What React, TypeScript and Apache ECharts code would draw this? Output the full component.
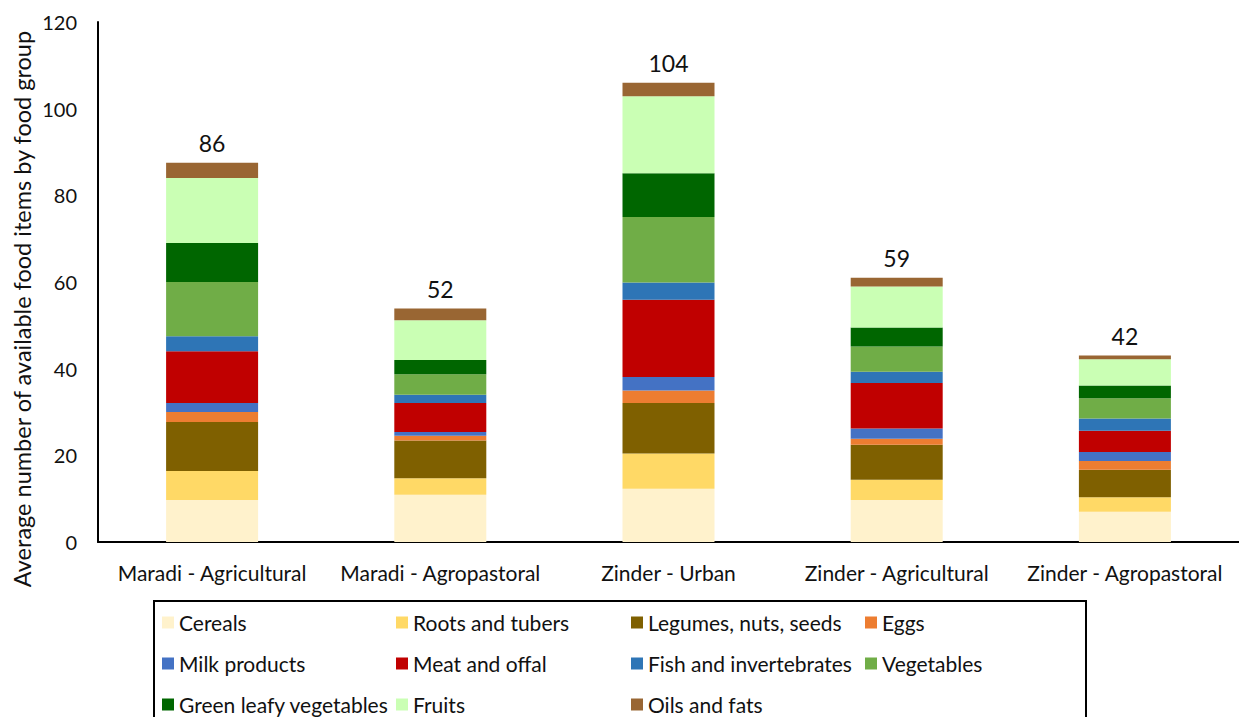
import React, { useEffect, useRef } from "react";
import * as echarts from "echarts";

const categories = [
  "Maradi - Agricultural",
  "Maradi - Agropastoral",
  "Zinder - Urban",
  "Zinder - Agricultural",
  "Zinder - Agropastoral",
];

const cereals = [9.7, 10.9, 12.3, 9.7, 7.0];
const rootsTubers = [6.7, 3.8, 8.1, 4.65, 3.3];
const legumesNutsSeeds = [11.3, 8.7, 11.7, 8.1, 6.4];
const eggs = [2.3, 1.1, 2.85, 1.35, 2.0];
const milkProducts = [2.1, 0.9, 3.15, 2.4, 2.05];
const meatOffal = [11.9, 6.7, 17.8, 10.5, 4.95];
const fishInvertebrates = [3.5, 1.9, 4.0, 2.6, 2.8];
const vegetables = [12.5, 4.7, 15.1, 5.8, 4.7];
const greenLeafyVegetables = [9.0, 3.3, 10.1, 4.4, 2.9];
const fruits = [15.0, 9.2, 17.75, 9.45, 6.1];
const oilsFats = [3.5, 2.7, 3.15, 2.05, 0.85];

const totals = [86, 52, 104, 59, 42];

const yTicks = [0, 20, 40, 60, 80, 100, 120];

const seriesDefs = [
  { name: "Cereals", data: cereals, color: "#FFF2CC" },
  { name: "Roots and tubers", data: rootsTubers, color: "#FFD966" },
  { name: "Legumes, nuts, seeds", data: legumesNutsSeeds, color: "#7F6000" },
  { name: "Eggs", data: eggs, color: "#ED7D31" },
  { name: "Milk products", data: milkProducts, color: "#4472C4" },
  { name: "Meat and offal", data: meatOffal, color: "#C00000" },
  { name: "Fish and invertebrates", data: fishInvertebrates, color: "#2E75B6" },
  { name: "Vegetables", data: vegetables, color: "#70AD47" },
  { name: "Green leafy vegetables", data: greenLeafyVegetables, color: "#006600" },
  { name: "Fruits", data: fruits, color: "#CAFFB4" },
  { name: "Oils and fats", data: oilsFats, color: "#996633" },
];

// legend grid: [row][col]
const legendRows = [
  ["Cereals", "Roots and tubers", "Legumes, nuts, seeds", "Eggs"],
  ["Milk products", "Meat and offal", "Fish and invertebrates", "Vegetables"],
  ["Green leafy vegetables", "Fruits", "Oils and fats"],
];
const legendColLefts = [162, 396, 631, 865];
const legendRowTops = [612, 653, 694];

const FONT = "Lato, 'Open Sans', sans-serif";

export default function App() {
  const ref = useRef<HTMLDivElement>(null);
  useEffect(() => {
    if (!ref.current) return;
    const chart = echarts.init(ref.current, undefined, { renderer: "svg" });
    const series: any[] = seriesDefs.map((s, i) => ({
      name: s.name,
      type: "bar",
      stack: "total",
      barWidth: 92,
      data: s.data,
      itemStyle: { color: s.color },
      label:
        i === seriesDefs.length - 1
          ? {
              show: true,
              position: "top",
              distance: 8,
              fontFamily: FONT,
              fontSize: 23,
              color: "#111",
              formatter: (p: any) => String(totals[p.dataIndex]),
            }
          : { show: false },
    }));
    const legends: any[] = [];
    legendRows.forEach((row, r) =>
      row.forEach((name, c) =>
        legends.push({
          orient: "horizontal",
          left: legendColLefts[c],
          top: legendRowTops[r],
          padding: 0,
          data: [name],
          icon: "rect",
          itemWidth: 12,
          itemHeight: 12,
          textStyle: { fontFamily: FONT, fontSize: 21, color: "#111" },
          selectedMode: false,
        })
      )
    );
    chart.setOption({
      animation: false,
      textStyle: { fontFamily: FONT },
      grid: { left: 98, top: 22, width: 1143, height: 520 },
      xAxis: {
        type: "category",
        data: categories,
        axisLine: { lineStyle: { color: "#000", width: 2 } },
        axisTick: { show: false },
        axisLabel: { interval: 0, fontFamily: FONT, fontSize: 21, color: "#111", margin: 20 },
      },
      yAxis: {
        type: "value",
        min: yTicks[0],
        max: yTicks[yTicks.length - 1],
        interval: 20,
        axisLine: { show: true, lineStyle: { color: "#000", width: 2 } },
        axisTick: { show: false },
        splitLine: { show: false },
        axisLabel: { fontFamily: FONT, fontSize: 20, color: "#111", margin: 21 },
      },
      legend: legends,
      graphic: [
        {
          type: "rect",
          shape: { x: 154, y: 601, width: 932, height: 140 },
          style: { fill: "none", stroke: "#000", lineWidth: 2 },
          silent: true,
        },
        {
          type: "text",
          x: 22,
          y: 309,
          rotation: Math.PI / 2,
          style: {
            text: "Average number of available food items by food group",
            fontFamily: FONT,
            fontSize: 23.5,
            fill: "#111",
            align: "center",
            verticalAlign: "middle",
          },
        },
      ],
      series,
    });
    return () => chart.dispose();
  }, []);
  return (
    <div
      ref={ref}
      style={{ position: "fixed", left: 0, top: 0, width: 1239, height: 717, background: "#fff" }}
    />
  );
}
